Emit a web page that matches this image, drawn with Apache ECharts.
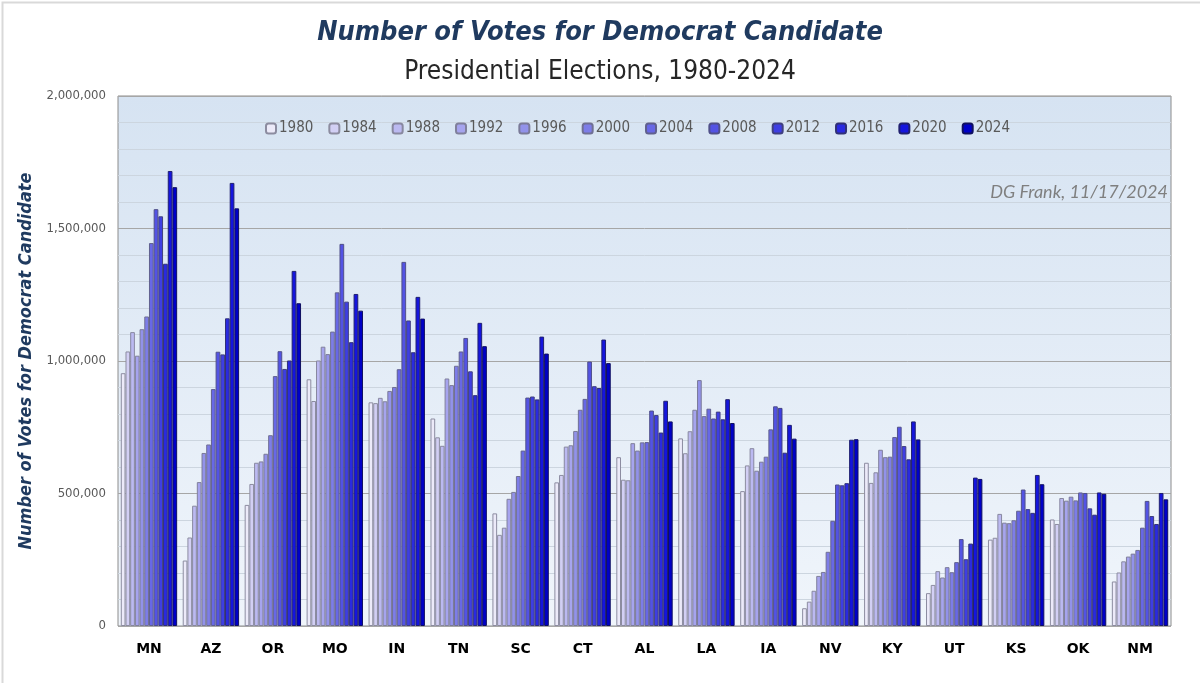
<!DOCTYPE html>
<html>
<head>
<meta charset="utf-8">
<script src="https://cdn.jsdelivr.net/npm/echarts@6/dist/echarts.min.js"></script>
<style>
  html, body { margin: 0; padding: 0; background: #fff; }
  #main { width: 1200px; height: 683px; }
</style>
</head>
<body>
<div id="main"></div>
<script>
// states, left to right
var states = ['MN', 'AZ', 'OR', 'MO', 'IN', 'TN', 'SC', 'CT', 'AL', 'LA', 'IA', 'NV', 'KY', 'UT', 'KS', 'OK', 'NM'];
var years = ['1980', '1984', '1988', '1992', '1996', '2000', '2004', '2008', '2012', '2016', '2020', '2024'];
var yTicks = [0, 500000, 1000000, 1500000, 2000000];

// votes per election year, same order as states
var v1980 = [954000, 247000, 457000, 931000, 844000, 783000, 425000, 542000, 637000, 708000, 509000, 67000, 616000, 124000, 326000, 402000, 168000];
var v1984 = [1036000, 334000, 536000, 849000, 841000, 712000, 344000, 570000, 552000, 652000, 606000, 92000, 540000, 155000, 333000, 385000, 202000];
var v1988 = [1109000, 454000, 616000, 1002000, 861000, 680000, 371000, 677000, 550000, 735000, 671000, 133000, 580000, 207000, 423000, 483000, 244000];
var v1992 = [1020000, 543000, 621000, 1054000, 848000, 934000, 480000, 682000, 690000, 816000, 586000, 189000, 665000, 183000, 390000, 473000, 262000];
var v1996 = [1120000, 653000, 650000, 1026000, 887000, 909000, 506000, 736000, 662000, 928000, 620000, 204000, 637000, 222000, 388000, 488000, 273000];
var v2000 = [1168000, 685000, 720000, 1111000, 902000, 982000, 566000, 816000, 693000, 792000, 639000, 280000, 639000, 203000, 399000, 474000, 287000];
var v2004 = [1445000, 894000, 943000, 1259000, 969000, 1036000, 662000, 857000, 694000, 820000, 742000, 397000, 713000, 241000, 435000, 504000, 371000];
var v2008 = [1573000, 1035000, 1037000, 1442000, 1374000, 1087000, 862000, 998000, 813000, 783000, 829000, 534000, 752000, 328000, 515000, 502000, 472000];
var v2012 = [1546000, 1025000, 970000, 1224000, 1153000, 961000, 866000, 905000, 796000, 809000, 823000, 531000, 679000, 252000, 441000, 444000, 415000];
var v2016 = [1367000, 1161000, 1002000, 1071000, 1033000, 871000, 855000, 898000, 730000, 780000, 654000, 539000, 629000, 311000, 427000, 420000, 385000];
var v2020 = [1717000, 1672000, 1340000, 1253000, 1242000, 1144000, 1092000, 1081000, 850000, 856000, 759000, 703000, 772000, 560000, 570000, 504000, 502000];
var v2024 = [1656000, 1576000, 1218000, 1190000, 1160000, 1056000, 1028000, 992000, 772000, 766000, 707000, 705000, 704000, 555000, 535000, 499000, 478000];

var allVotes = [v1980, v1984, v1988, v1992, v1996, v2000, v2004, v2008, v2012, v2016, v2020, v2024];

// light lavender -> deep blue
var colors = ['#ECEAF9', '#D2CFF4', '#BBB9F1', '#A6A4EE', '#9292EA', '#7D7DE8', '#6868E6', '#5353E4', '#3E3EE3', '#2A2AE0', '#1515DE', '#0000C8'];
var borders = ['#8C8CA0', '#8C8CA0', '#8888A0', '#80809C', '#7A7A98', '#707094', '#60608E', '#50508A', '#404080', '#303078', '#202070', '#101060'];

var navy = '#1F3A5F';
var narrow = "'Liberation Sans Narrow', 'DejaVu Sans Condensed', sans-serif";

var series = [];
for (var i = 0; i < years.length; i++) {
	series.push({
		name: years[i],
		type: 'bar',
		data: allVotes[i],
		barGap: '0%',
		barCategoryGap: '9%',
		itemStyle: {
			color: colors[i],
			borderColor: borders[i],
			borderWidth: 1
		}
	});
}

var chart = echarts.init(document.getElementById('main'));

var option = {
	backgroundColor: '#fff',
	animation: false,
	title: [{
		text: 'Number of Votes for Democrat Candidate',
		left: 'center',
		top: 14,
		textStyle: {
			fontFamily: narrow,
			fontSize: 27,
			fontWeight: 'bold',
			fontStyle: 'italic',
			color: navy
		}
	}, {
		text: 'Presidential Elections, 1980-2024',
		left: 'center',
		top: 54,
		textStyle: {
			fontFamily: narrow,
			fontSize: 26,
			fontWeight: 'normal',
			color: '#262626'
		}
	}],
	legend: {
		top: 116,
		left: 260,
		itemWidth: 10,
		itemHeight: 10,
		itemGap: 15,
		textStyle: {
			fontFamily: narrow,
			fontSize: 15,
			color: '#595959',
			padding: [0, 0, 0, -2]
		},
		data: years
	},
	grid: {
		left: 118,
		right: 29,
		top: 96,
		bottom: 57,
		show: true,
		borderColor: '#8C8C8C',
		borderWidth: 1,
		backgroundColor: new echarts.graphic.LinearGradient(0, 0, 0, 1, [
			{ offset: 0, color: '#D6E3F2' },
			{ offset: 1, color: '#F0F5FB' }
		])
	},
	xAxis: {
		type: 'category',
		data: states,
		axisLine: { show: false },
		axisTick: { show: false },
		axisLabel: {
			margin: 16,
			fontFamily: 'DejaVu Sans',
			fontWeight: 'bold',
			fontSize: 14,
			color: '#000'
		}
	},
	yAxis: {
		type: 'value',
		min: yTicks[0],
		max: yTicks[yTicks.length - 1],
		interval: 500000,
		name: 'Number of Votes for Democrat Candidate',
		nameLocation: 'middle',
		nameGap: 78,
		nameTextStyle: {
			fontFamily: narrow,
			fontSize: 18,
			fontWeight: 'bold',
			fontStyle: 'italic',
			color: navy
		},
		axisLine: { show: false },
		axisTick: { show: false },
		axisLabel: {
			margin: 12,
			fontFamily: narrow,
			fontSize: 13,
			color: '#595959',
			formatter: function (v) { return v.toLocaleString('en-US'); }
		},
		splitLine: { lineStyle: { color: '#A6A6A6', width: 1 } },
		minorTick: { show: false, splitNumber: 5 },
		minorSplitLine: { show: true, lineStyle: { color: '#CCD5DF', width: 1 } }
	},
	graphic: [{
		type: 'rect',
		left: 0,
		top: 0,
		shape: { width: 1199, height: 682 },
		style: { fill: 'none', stroke: '#D9D9D9', lineWidth: 2 },
		silent: true
	}, {
		type: 'text',
		right: 32,
		top: 183,
		style: {
			text: 'DG Frank, 11/17/2024',
			fontFamily: 'Lato, sans-serif',
			fontStyle: 'italic',
			fontSize: 18,
			fill: '#7F7F7F'
		}
	}],
	series: series
};

chart.setOption(option);
</script>
</body>
</html>
